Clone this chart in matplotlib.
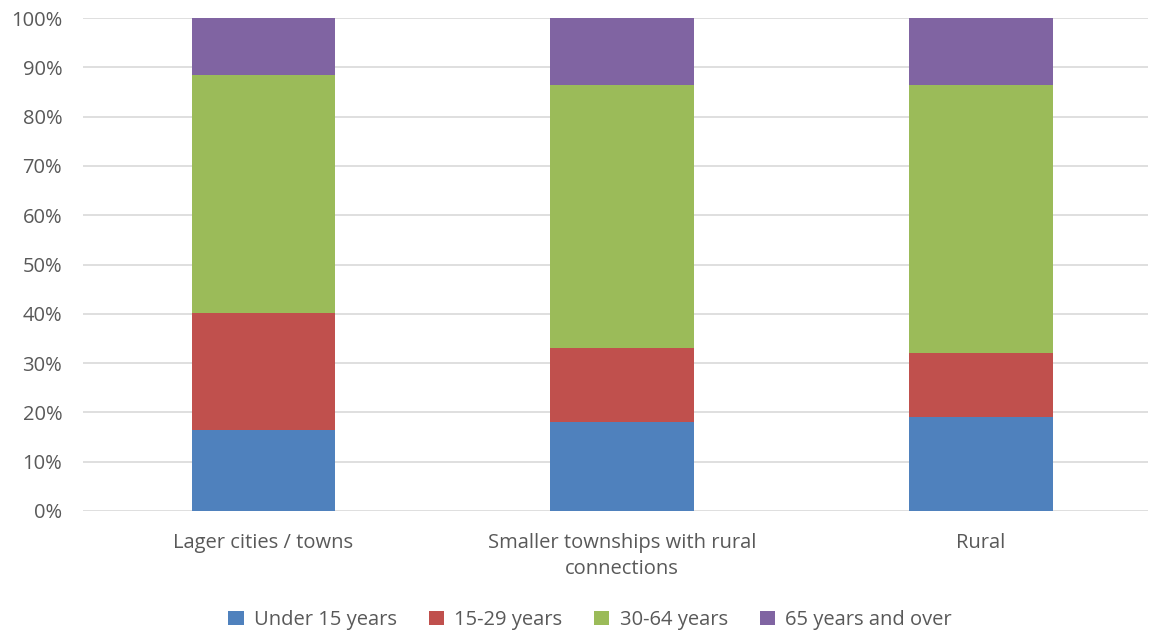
import numpy as np
import matplotlib.pyplot as plt
from matplotlib.ticker import PercentFormatter

# share of population by age group (%)
categories = ["Lager cities / towns", "Smaller townships with rural\nconnections", "Rural"]
under_15 = [16.4, 18.0, 19.0]
age_15_29 = [23.7, 15.0, 13.0]
age_30_64 = [48.4, 53.5, 54.5]
age_65_plus = [11.5, 13.5, 13.5]

series = [
    ("Under 15 years", under_15, "#4F81BD"),
    ("15-29 years", age_15_29, "#C0504D"),
    ("30-64 years", age_30_64, "#9BBB59"),
    ("65 years and over", age_65_plus, "#8064A2"),
]

plt.rcParams["font.family"] = ["Open Sans", "DejaVu Sans"]
txt = "#595959"
fs = 14.5

fig = plt.figure(figsize=(11.57, 6.33), dpi=100)
ax = fig.add_axes([83 / 1157, 1 - 511 / 633, 1065 / 1157, 493 / 633])

x = np.arange(len(categories))
bottom = np.zeros(len(categories))
for name, vals, col in series:
    vals = np.array(vals)
    ax.bar(x, vals, 0.40, bottom=bottom, color=col, label=name, zorder=3)
    bottom += vals

ax.set_xlim(-0.503, 2.466)
ax.set_ylim(0, 100)
ax.set_yticks(np.arange(0, 101, 10))
ax.yaxis.set_major_formatter(PercentFormatter(decimals=0))
ax.grid(axis="y", color="#D9D9D9", linewidth=1.2, zorder=0)
for s in ["top", "right", "left", "bottom"]:
    ax.spines[s].set_visible(False)
ax.tick_params(axis="both", length=0, colors=txt, labelsize=fs)
ax.tick_params(axis="y", pad=15)
ax.tick_params(axis="x", pad=16)
ax.set_xticks(x)
ax.set_xticklabels(categories, linespacing=1.4)

fig.legend(loc="center", bbox_to_anchor=(0.51, 1 - 620 / 633), ncol=4, frameon=False,
           fontsize=fs, labelcolor=txt, handlelength=0.75, handleheight=0.75,
           handletextpad=0.5, columnspacing=1.6)

fig.savefig("out.png", dpi=100)
